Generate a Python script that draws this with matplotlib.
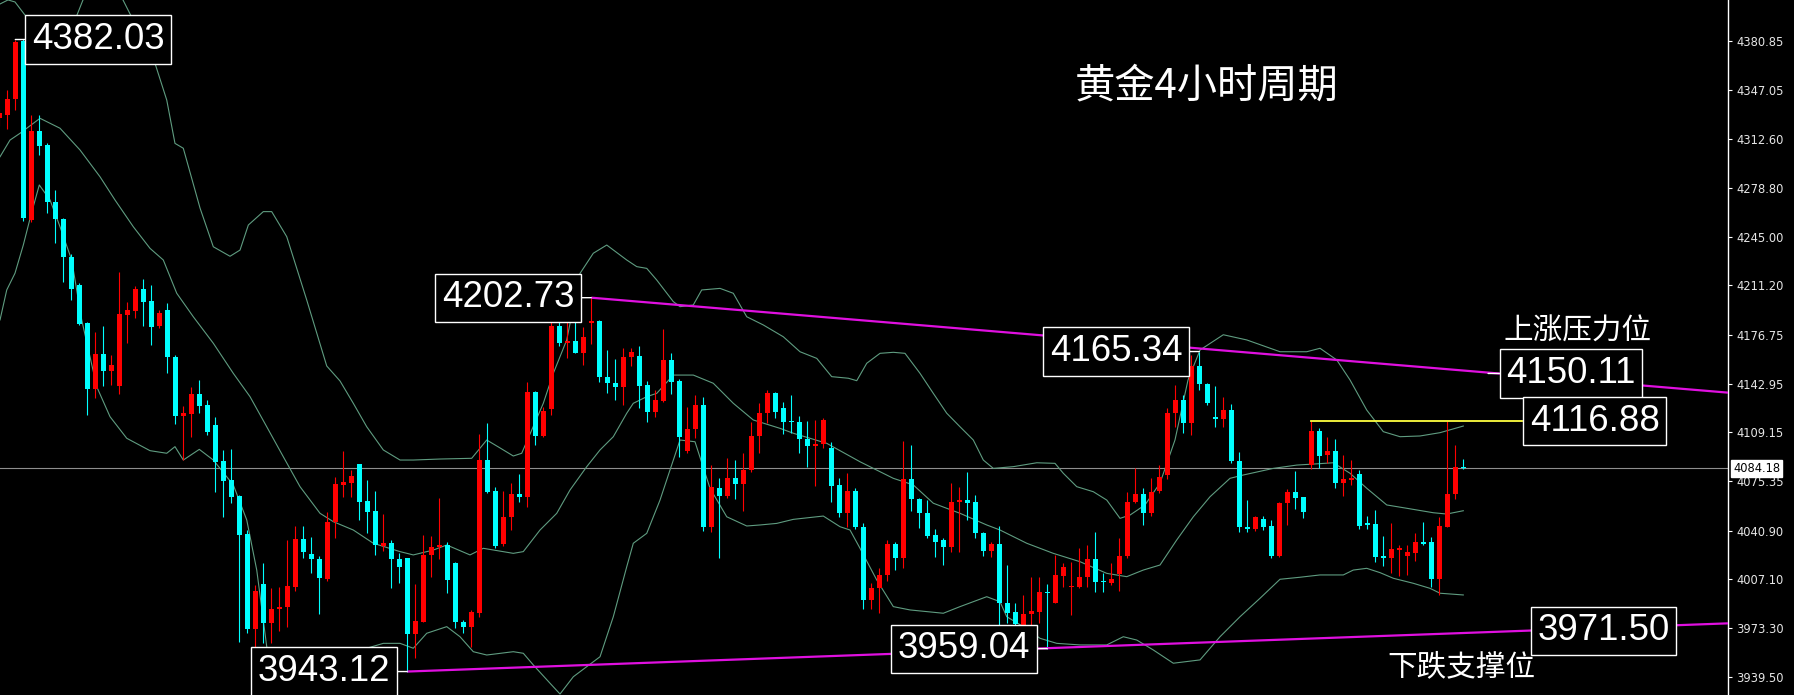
import numpy as np
import matplotlib
matplotlib.use("Agg")
import matplotlib.pyplot as plt

plt.rcParams['font.family'] = ['Noto Sans CJK SC', 'DejaVu Sans']

# gold 4h candles, oldest first
opens = [
    4327.3, 4329.6, 4340.5, 4381.0, 4256.7, 4318.5, 4308.8, 4269.4, 4257.4, 4231.2,
    4211.5, 4184.9, 4139.3, 4163.6, 4151.8, 4141.6, 4190.7, 4193.5, 4208.8, 4200.4,
    4183.1, 4194.2, 4161.8, 4120.8, 4122.0, 4135.8, 4128.2, 4114.3, 4089.5, 4076.1,
    4065.0, 4038.6, 3972.4, 4003.9, 3976.6, 3986.3, 3987.7, 4002.0, 4035.1, 4024.7,
    4021.0, 4007.1, 4047.2, 4072.6, 4074.3, 4087.0, 4061.5, 4054.6, 4030.3, 4032.1,
    4021.0, 4021.7, 3968.9, 3977.7, 4024.0, 4029.8, 4031.0, 4018.7, 3977.7, 3973.8,
    3984.0, 4090.0, 4068.7, 4031.7, 4050.2, 4066.4, 4064.5, 4137.5, 4106.7, 4125.2,
    4183.1, 4171.5, 4172.9, 4164.1, 4184.9, 4186.8, 4147.9, 4143.3, 4140.9, 4161.3,
    4162.2, 4142.1, 4123.6, 4131.2, 4159.5, 4145.1, 4096.5, 4111.3, 4128.2, 4043.2,
    4070.3, 4065.0, 4077.3, 4073.1, 4083.1, 4106.7, 4122.4, 4136.8, 4125.9, 4117.3,
    4116.6, 4104.4, 4100.0, 4101.1, 4098.1, 4072.6, 4053.4, 4068.7, 4043.7, 3992.8,
    4000.9, 4010.1, 4031.7, 4021.7, 4076.6, 4062.7, 4053.4, 4037.9, 4034.4, 4029.8,
    4061.1, 4062.2, 4061.1, 4039.1, 4027.0, 4031.7, 3990.5, 3984.7, 3975.4, 3983.1,
    3984.7, 3998.6, 3990.9, 4009.4, 4001.6, 4002.0, 4008.5, 4021.0, 4006.2, 4004.8,
    4010.8, 4023.3, 4061.1, 4066.4, 4053.0, 4068.7, 4079.6, 4122.4, 4131.7, 4115.5,
    4155.3, 4142.8, 4119.6, 4118.2, 4124.7, 4089.5, 4043.7, 4041.9, 4048.8, 4044.2,
    4023.3, 4059.9, 4068.0, 4064.1, 4086.5, 4110.4, 4093.5, 4096.5, 4074.3, 4076.1,
    4080.3, 4046.0, 4045.6, 4023.3, 4021.7, 4027.5, 4023.3, 4025.6, 4033.3, 4033.3,
    4007.1, 4043.7, 4066.4, 4084.7]
highs = [
    4334.0, 4347.0, 4381.6, 4382.03, 4329.6, 4329.6, 4310.4, 4277.5, 4257.8, 4233.0,
    4213.0, 4186.0, 4179.1, 4183.1, 4162.9, 4220.8, 4200.0, 4210.9, 4215.5, 4211.5,
    4194.2, 4199.3, 4162.9, 4127.7, 4140.9, 4145.6, 4131.7, 4120.1, 4097.0, 4097.6,
    4065.7, 4041.4, 4003.2, 4018.7, 4000.9, 4002.0, 4034.4, 4044.2, 4044.2, 4036.3,
    4023.3, 4054.1, 4078.0, 4096.5, 4083.1, 4087.0, 4076.1, 4068.7, 4052.5, 4034.4,
    4025.2, 4022.0, 4003.9, 4037.9, 4037.2, 4063.4, 4033.3, 4019.4, 3978.9, 3985.8,
    4108.1, 4115.5, 4071.0, 4068.7, 4073.8, 4080.3, 4144.4, 4138.2, 4127.1, 4194.2,
    4187.2, 4187.2, 4187.2, 4182.1, 4202.73, 4187.2, 4166.4, 4159.9, 4167.6, 4167.6,
    4169.2, 4145.1, 4138.6, 4180.8, 4164.1, 4146.0, 4127.1, 4135.1, 4134.0, 4086.5,
    4077.3, 4091.2, 4090.0, 4094.6, 4116.6, 4129.8, 4138.6, 4137.5, 4130.5, 4135.1,
    4120.6, 4117.3, 4117.8, 4118.9, 4102.7, 4077.3, 4080.7, 4070.3, 4046.5, 4004.4,
    4014.8, 4034.4, 4033.3, 4103.4, 4100.4, 4063.4, 4062.2, 4041.9, 4035.6, 4073.8,
    4071.5, 4081.9, 4065.7, 4040.2, 4033.3, 4044.2, 4017.1, 3990.5, 3996.3, 4008.5,
    4009.0, 4003.9, 4024.0, 4018.2, 4019.4, 4028.7, 4031.0, 4040.2, 4011.3, 4018.2,
    4035.6, 4068.0, 4084.2, 4070.3, 4077.3, 4086.5, 4125.9, 4142.1, 4135.1, 4163.0,
    4165.34, 4143.7, 4141.4, 4134.0, 4128.9, 4095.8, 4062.2, 4051.1, 4051.1, 4048.3,
    4061.1, 4069.6, 4082.6, 4064.5, 4116.88, 4112.0, 4106.2, 4104.4, 4093.5, 4090.0,
    4083.1, 4051.1, 4055.3, 4037.2, 4046.5, 4031.0, 4031.0, 4039.5, 4047.2, 4036.8,
    4050.2, 4116.88, 4100.4, 4090.5]
lows = [
    4322.0, 4320.0, 4333.0, 4256.0, 4255.0, 4301.8, 4261.3, 4240.5, 4213.9, 4201.1,
    4183.8, 4121.3, 4132.8, 4141.6, 4142.1, 4135.8, 4171.0, 4188.9, 4183.1, 4169.9,
    4182.0, 4150.2, 4114.8, 4090.0, 4105.7, 4122.9, 4107.4, 4068.0, 4050.2, 4060.0,
    3963.8, 3970.0, 3959.2, 3963.1, 3963.1, 3971.5, 3973.8, 3999.3, 4021.7, 4011.3,
    3983.1, 4006.2, 4035.6, 4064.5, 4064.5, 4048.3, 4039.1, 4024.0, 4027.0, 4000.9,
    4004.8, 3943.12, 3952.3, 3977.7, 4008.5, 4021.0, 3997.9, 3973.1, 3969.6, 3959.9,
    3981.2, 4066.9, 4028.7, 4030.3, 4041.4, 4061.1, 4057.6, 4100.4, 4105.7, 4121.3,
    4169.2, 4160.6, 4164.1, 4156.0, 4170.6, 4144.4, 4136.8, 4131.7, 4128.2, 4155.3,
    4125.9, 4116.6, 4119.6, 4130.5, 4135.8, 4092.3, 4094.6, 4105.0, 4040.9, 4040.2,
    4021.7, 4063.4, 4062.7, 4054.8, 4081.9, 4094.6, 4115.9, 4118.9, 4108.1, 4109.0,
    4094.6, 4085.4, 4071.9, 4098.1, 4061.1, 4050.2, 4043.7, 4041.9, 3986.3, 3986.3,
    3983.5, 4006.2, 4013.6, 4014.8, 4054.8, 4042.5, 4035.6, 4022.4, 4017.0, 4026.3,
    4026.3, 4048.3, 4035.6, 4023.3, 4022.9, 3974.3, 3976.6, 3968.5, 3973.1, 3970.1,
    3977.1, 3959.04, 3990.9, 4002.0, 3982.4, 4000.9, 4002.0, 3998.6, 3998.6, 4003.2,
    3999.3, 4021.7, 4059.9, 4044.9, 4051.1, 4067.3, 4076.6, 4113.2, 4109.0, 4107.4,
    4138.6, 4128.2, 4112.7, 4113.2, 4088.2, 4040.2, 4040.2, 4040.9, 4041.4, 4021.7,
    4022.4, 4044.9, 4055.7, 4049.5, 4083.5, 4084.2, 4088.2, 4070.3, 4065.0, 4072.6,
    4041.9, 4041.9, 4019.4, 4016.4, 4011.3, 4009.4, 4010.1, 4020.1, 4031.0, 4002.0,
    3996.3, 4043.2, 4062.7, 4083.5]
closes = [
    4330.7, 4340.7, 4380.5, 4258.0, 4318.5, 4308.3, 4269.0, 4257.1, 4230.8, 4208.8,
    4184.5, 4139.3, 4163.6, 4151.8, 4156.0, 4191.4, 4194.2, 4208.8, 4200.0, 4182.6,
    4191.9, 4161.3, 4120.8, 4122.9, 4135.8, 4127.7, 4109.7, 4088.9, 4075.6, 4064.1,
    4037.9, 3972.4, 3999.3, 3976.6, 3986.5, 3988.1, 4002.5, 4035.1, 4026.3, 4021.0,
    4007.8, 4047.2, 4073.3, 4074.5, 4079.1, 4061.1, 4054.1, 4031.0, 4032.1, 4021.0,
    4015.9, 3968.9, 3978.2, 4024.0, 4029.4, 4031.0, 4006.7, 3977.7, 3973.8, 3984.7,
    4090.0, 4068.0, 4030.3, 4050.2, 4066.4, 4064.5, 4137.5, 4106.7, 4124.3, 4183.1,
    4171.5, 4172.9, 4164.1, 4175.7, 4186.8, 4147.4, 4143.3, 4140.9, 4161.8, 4164.8,
    4141.6, 4123.6, 4131.7, 4159.5, 4144.4, 4105.7, 4111.3, 4128.2, 4043.2, 4071.5,
    4065.0, 4077.3, 4073.1, 4083.1, 4106.7, 4122.4, 4136.8, 4123.6, 4116.6, 4116.4,
    4104.4, 4100.0, 4101.1, 4117.8, 4071.9, 4053.4, 4068.7, 4043.2, 3992.8, 4000.9,
    4010.1, 4031.7, 4021.7, 4076.6, 4062.7, 4053.0, 4037.2, 4033.3, 4029.8, 4061.1,
    4062.2, 4060.4, 4039.1, 4027.0, 4031.7, 3990.5, 3984.0, 3976.1, 3983.1, 3985.4,
    3998.6, 3997.4, 4010.1, 4015.9, 4002.5, 4008.5, 4021.0, 4005.5, 4005.0, 4007.1,
    4023.3, 4061.1, 4066.4, 4053.0, 4068.0, 4078.0, 4122.9, 4131.7, 4115.5, 4155.3,
    4142.8, 4129.4, 4118.2, 4124.7, 4089.5, 4043.2, 4041.9, 4050.2, 4043.2, 4023.3,
    4060.4, 4068.0, 4063.4, 4054.1, 4110.4, 4092.8, 4096.5, 4074.3, 4076.6, 4077.3,
    4044.2, 4044.6, 4022.9, 4021.7, 4028.0, 4028.7, 4026.3, 4033.3, 4031.7, 4007.1,
    4044.2, 4066.4, 4085.4, 4084.18]

# Bollinger bands (candle index, price)
upper_idx = [0.09, 1.09, 1.96, 3.21, 5.71, 8.21, 9.71, 10.46, 12.59, 14.46, 15.46, 19.46, 20.93,
             21.96, 23.0, 25.09, 26.75, 28.84, 30.09, 31.13, 33.0, 34.05, 35.93, 38.43, 40.93,
             42.59, 44.25, 45.93, 48.0, 50.09, 51.75, 55.09, 59.05, 60.93, 62.59, 64.25, 65.3,
             68.0, 69.25, 70.93, 72.59, 74.25, 75.93, 78.43, 79.68, 80.93, 82.18, 84.25, 85.09,
             86.75, 87.8, 90.09, 91.75, 93.43, 95.5, 98.0, 100.09, 102.18, 104.05, 106.13,
             107.18, 108.43, 110.09, 111.75, 113.21, 115.09, 116.75, 118.43, 120.09, 121.75,
             123.0, 124.25, 126.75, 129.68, 131.96, 133.0, 134.68, 136.75, 138.43, 140.09,
             141.34, 143.21, 145.09, 146.96, 148.59, 150.09, 153.0, 155.93, 160.09, 163.43,
             165.09, 167.18, 168.84, 170.93, 173.0, 175.09, 177.59, 180.09, 183.0]
upper_val = [4406.7, 4409.5, 4408.1, 4399.0, 4388.6, 4390.0, 4399.0, 4409.5, 4419.9, 4416.4, 4409.5,
             4365.5, 4340.0, 4309.9, 4306.5, 4265.0, 4238.1, 4231.5, 4235.8, 4253.2, 4262.5,
             4262.5, 4245.1, 4201.1, 4155.3, 4144.9, 4129.4, 4113.1, 4097.0, 4090.0, 4090.0,
             4090.7, 4091.2, 4103.9, 4098.4, 4092.8, 4094.7, 4129.4, 4150.2, 4173.4, 4219.6,
             4233.6, 4239.3, 4228.9, 4224.3, 4223.1, 4215.0, 4200.0, 4196.5, 4197.7, 4208.1,
             4209.2, 4205.8, 4189.5, 4183.8, 4175.6, 4165.2, 4160.6, 4147.9, 4146.8, 4145.1,
             4157.2, 4164.1, 4164.8, 4164.1, 4150.2, 4136.3, 4122.5, 4113.1, 4103.9, 4090.0,
             4084.2, 4085.4, 4088.1, 4087.7, 4080.8, 4071.5, 4068.0, 4062.2, 4049.5, 4051.8,
             4058.8, 4074.0, 4103.9, 4145.6, 4166.4, 4177.0, 4173.4, 4165.2, 4165.2, 4167.6,
             4159.5, 4145.6, 4124.7, 4109.7, 4106.2, 4106.7, 4109.0, 4113.6]
mid_idx = [0.09, 1.34, 2.59, 5.09, 7.59, 10.09, 12.59, 14.46, 16.75, 18.84, 20.5, 22.18, 24.25,
           26.75, 29.25, 31.34, 33.43, 35.5, 37.59, 40.09, 41.75, 44.25, 46.75, 50.09, 51.75,
           54.25, 55.93, 58.84, 60.5, 64.25, 65.5, 67.59, 69.68, 71.34, 73.43, 75.09, 76.75,
           78.43, 79.25, 80.93, 82.18, 84.25, 86.75, 89.25, 91.75, 94.25, 97.59, 99.25, 103.43,
           107.59, 111.75, 114.25, 116.75, 120.09, 123.43, 125.09, 128.43, 131.75, 135.09,
           138.43, 140.93, 143.0, 145.09, 147.18, 149.25, 151.34, 153.84, 155.5, 159.25,
           162.18, 164.25, 166.75, 168.84, 170.93, 173.43, 175.93, 179.25, 180.93, 183.0]
mid_val = [4300.6, 4312.2, 4316.9, 4327.3, 4320.4, 4305.3, 4286.7, 4270.6, 4252.0, 4237.0, 4228.9,
           4205.8, 4189.5, 4171.1, 4150.2, 4134.0, 4113.1, 4092.3, 4071.5, 4053.0, 4047.2,
           4041.4, 4032.2, 4026.4, 4024.1, 4027.5, 4031.0, 4024.1, 4028.7, 4025.2, 4026.4,
           4041.4, 4053.0, 4069.2, 4085.4, 4097.0, 4106.2, 4122.5, 4129.4, 4134.0, 4136.3,
           4149.0, 4149.0, 4143.3, 4129.4, 4117.8, 4112.0, 4108.6, 4101.6, 4088.8, 4077.3,
           4072.7, 4060.0, 4053.0, 4044.9, 4041.4, 4032.2, 4025.2, 4019.4, 4011.3, 4009.0,
           4013.6, 4017.1, 4034.5, 4050.6, 4064.5, 4077.3, 4079.6, 4084.2, 4086.5, 4087.2,
           4088.1, 4080.8, 4070.4, 4058.8, 4056.5, 4053.4, 4052.5, 4054.8]
lower_idx = [0.09, 0.93, 1.96, 3.0, 3.96, 5.0, 6.34, 7.59, 9.05, 10.3, 12.18, 13.84, 15.93, 18.84,
             20.93, 21.96, 23.0, 25.0, 26.75, 29.25, 30.93, 32.18, 33.43, 35.09, 37.59, 41.34,
             43.84, 45.93, 48.0, 50.09, 51.75, 53.43, 55.93, 57.59, 59.25, 60.93, 64.25, 65.5,
             66.75, 68.84, 70.09, 71.75, 73.43, 75.09, 76.75, 78.43, 79.25, 80.93, 82.59, 83.84,
             85.09, 86.96, 88.84, 90.93, 93.43, 95.09, 97.18, 99.25, 103.0, 105.09, 106.34,
             107.59, 109.68, 111.75, 113.84, 118.0, 120.09, 123.43, 125.09, 125.93, 128.0,
             130.09, 132.18, 135.09, 138.43, 140.5, 142.18, 144.25, 146.75, 150.09, 152.59,
             155.09, 157.59, 160.09, 162.59, 165.09, 168.0, 169.25, 170.93, 172.59, 174.25,
             176.75, 178.84, 180.09, 183.0]
lower_val = [4187.3, 4208.1, 4219.7, 4239.3, 4260.2, 4281.0, 4270.6, 4252.0, 4228.9, 4187.3, 4140.9,
             4120.1, 4105.1, 4096.5, 4094.7, 4099.3, 4090.0, 4097.4, 4090.0, 4072.7, 4048.4,
             4013.6, 3960.4, 3937.2, 3924.7, 3926.8, 3947.7, 3959.3, 3962.7, 3962.7, 3959.3,
             3969.7, 3974.3, 3967.3, 3956.9, 3954.6, 3956.9, 3955.8, 3947.7, 3935.0, 3927.5,
             3939.5, 3946.5, 3953.4, 3981.2, 4015.9, 4032.2, 4039.1, 4062.2, 4083.1, 4103.9,
             4102.7, 4070.4, 4050.6, 4044.2, 4044.9, 4046.0, 4048.8, 4051.1, 4043.7, 4041.4,
             4028.7, 4006.7, 3988.2, 3985.9, 3983.6, 3988.2, 3995.1, 3991.6, 3981.2, 3974.3,
             3966.2, 3962.7, 3961.6, 3961.6, 3967.3, 3965.0, 3958.1, 3948.9, 3951.2, 3967.3,
             3981.2, 3994.0, 4007.2, 4008.6, 4010.2, 4010.2, 4013.6, 4014.8, 4011.8, 4007.9,
             4004.4, 4000.9, 3997.5, 3996.3]

# drawn levels
resist_pts = [(74, 4202.73), (187.4, 4150.11)]
support_pts = [(51, 3943.12), (191, 3971.50)]
yellow_level = 4116.88
yellow_span = [164, 190.3]
last_price = 4084.18

# boxed price labels: text, anchor index, anchor price, x offset (px), connector
label_txt = ['4382.03', '4202.73', '4165.34', '4150.11', '4116.88', '3943.12', '3959.04', '3971.50']
label_idx = [2, 74, 150, 186.1, 190.3, 51, 131, 191]
label_val = [4382.03, 4202.73, 4165.34, 4150.11, 4116.88, 3943.12, 3959.04, 3971.50]
label_dx = [83, -83, -83, 83, 73, -83, -83, 76]
label_line = [True, True, True, True, False, True, True, False]

yticks = [4380.85, 4347.05, 4312.60, 4278.80, 4245.00, 4211.20, 4176.75, 4142.95,
          4109.15, 4075.35, 4040.90, 4007.10, 3973.30, 3939.50]

opens = np.array(opens)
closes = np.array(closes)
highs = np.array(highs)
lows = np.array(lows)
x = np.arange(len(opens))

fig = plt.figure(figsize=(17.94, 6.95), dpi=100, facecolor='black')
ax = fig.add_axes([0, 0, 1728 / 1794, 1])
ax.set_facecolor('black')

band_col = '#5f9c80'
ax.plot(upper_idx, upper_val, color=band_col, lw=0.8, zorder=2)
ax.plot(mid_idx, mid_val, color=band_col, lw=0.8, zorder=2)
ax.plot(lower_idx, lower_val, color=band_col, lw=0.8, zorder=2)

ax.axhline(last_price, color='#8e8e8e', lw=0.8, zorder=1)

col = np.where(closes >= opens, '#ff0000', '#00ffff')
ax.vlines(x, lows, highs, colors=col, lw=0.8, zorder=3)
body_lo = np.minimum(opens, closes)
body_h = np.maximum(np.abs(closes - opens), 0.9)
ax.bar(x, body_h, bottom=body_lo, width=0.62, color=col, lw=0, zorder=4)

xmin, xmax = 0.0875, 216.0875

def extend(pts):
    (x0, y0), (x1, y1) = pts
    slope = (y1 - y0) / (x1 - x0)
    return [x0, xmax], [y0, y0 + slope * (xmax - x0)]

for pts in (resist_pts, support_pts):
    xs, ys = extend(pts)
    ax.plot(xs, ys, color='#e010e0', lw=1.6, zorder=5, solid_capstyle='butt')

ax.plot(yellow_span, [yellow_level, yellow_level], color='#ffff40', lw=1.3, zorder=5)

for t, ix, v, dx, ln in zip(label_txt, label_idx, label_val, label_dx, label_line):
    arrow = dict(arrowstyle='-', color='white', lw=1, shrinkA=0, shrinkB=0) if ln else None
    ax.annotate(t, xy=(ix, v), xytext=(dx, 0), textcoords='offset pixels',
                ha='center', va='center', color='white', fontsize=26.4,
                family='Liberation Sans',
                bbox=dict(boxstyle='square,pad=0.18', fc='black', ec='white', lw=1),
                arrowprops=arrow, zorder=7, annotation_clip=False)

ax.text(0.622, 0.877, '黄金4小时周期', transform=ax.transAxes, ha='left', va='center',
        color='white', fontsize=29)
ax.text(0.8698, 0.5237, '上涨压力位', transform=ax.transAxes, ha='left', va='center',
        color='white', fontsize=21.3)
ax.text(0.8027, 0.0403, '下跌支撑位', transform=ax.transAxes, ha='left', va='center',
        color='white', fontsize=21.3)

ax.set_xlim(xmin, xmax)
ax.set_ylim(3926.83, 4409.46)

for s in ('left', 'top', 'bottom'):
    ax.spines[s].set_visible(False)
ax.spines['right'].set_color('white')
ax.spines['right'].set_linewidth(1)
ax.set_xticks([])
ax.yaxis.tick_right()
ax.set_yticks(yticks)
ax.set_yticklabels([f'{t:.2f}' for t in yticks], family='DejaVu Sans')
ax.tick_params(axis='y', colors='white', labelcolor='#e6e6e6', labelsize=8.3,
               length=3, width=0.8, direction='out', pad=3)

ax.annotate(f'{last_price:.2f}', xy=(1.0, last_price), xycoords=('axes fraction', 'data'),
            xytext=(5, 0), textcoords='offset pixels', ha='left', va='center',
            fontsize=8.3, color='black', family='DejaVu Sans',
            bbox=dict(boxstyle='square,pad=0.15', fc='white', ec='white'),
            annotation_clip=False, zorder=8)

fig.savefig('out.png', dpi=100, facecolor='black')
